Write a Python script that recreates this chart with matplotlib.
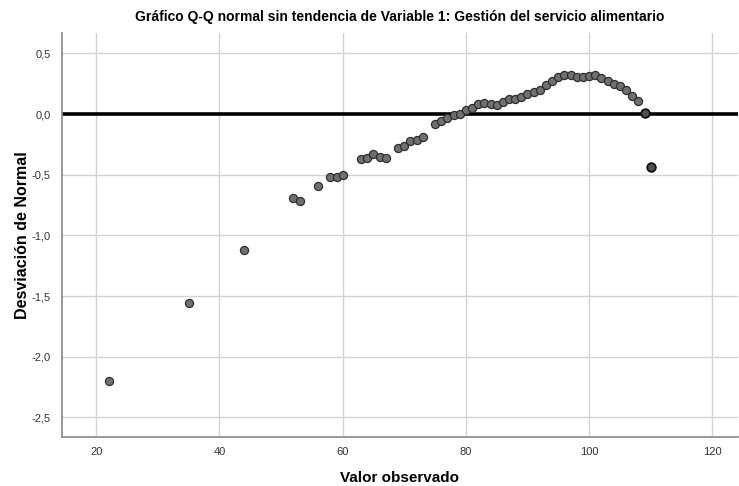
import matplotlib.pyplot as plt

# -----------------------------------
# DATA
# -----------------------------------

observed = [22, 35, 44, 52, 53, 56, 58, 59, 60, 63, 64, 65, 66, 67,
            69, 70, 71, 72, 73, 75, 76, 77, 78, 79, 80, 81, 82, 83,
            84, 85, 86, 87, 88, 89, 90, 91, 92, 93, 94, 95, 96, 97,
            98, 99, 100, 101, 102, 103, 104, 105, 106, 107, 108, 109, 110]

deviation = [-2.20, -1.56, -1.12, -0.69, -0.72, -0.59, -0.52, -0.52, -0.50,
             -0.37, -0.365, -0.33, -0.35, -0.36, -0.28, -0.26, -0.22, -0.21,
             -0.19, -0.08, -0.06, -0.03, -0.01, 0.0, 0.03, 0.05, 0.08, 0.09,
             0.08, 0.077, 0.096, 0.12, 0.12, 0.14, 0.167, 0.18, 0.20, 0.236,
             0.274, 0.305, 0.32, 0.32, 0.307, 0.307, 0.315, 0.32, 0.30, 0.27,
             0.25, 0.23, 0.195, 0.15, 0.105, 0.01, -0.44]

# repeated observations (drawn darker in the reference)
repeated_x = [109, 110]
repeated_y = [0.01, -0.44]

x_ticks = [20, 40, 60, 80, 100, 120]
y_ticks = [0.5, 0.0, -0.5, -1.0, -1.5, -2.0, -2.5]

# -----------------------------------
# PLOT
# -----------------------------------

plt.rcParams["font.family"] = ["Liberation Sans", "DejaVu Sans"]

fig = plt.figure(figsize=(7.39, 4.86), dpi=100)
ax = fig.add_axes([0.084, 0.101, 0.914, 0.831])

ax.set_xlim(14.45, 124.1)
ax.set_ylim(-2.66, 0.667)

ax.grid(True, color="#d2d2d2", linewidth=1.0)
ax.set_axisbelow(True)

ax.axhline(0, color="black", linewidth=2.6, zorder=2)

ax.scatter(observed, deviation, s=34, color="#707070",
           edgecolors="#2e2e2e", linewidths=0.9, zorder=3)
ax.scatter(repeated_x, repeated_y, s=38, color="#505050",
           edgecolors="#111111", linewidths=1.3, zorder=4)

ax.set_xticks(x_ticks)
ax.set_yticks(y_ticks)
ax.set_yticklabels([f"{v:.1f}".replace(".", ",") for v in y_ticks])
ax.tick_params(axis="both", length=0, labelsize=8, labelcolor="#333333")
ax.tick_params(axis="x", pad=7)
ax.tick_params(axis="y", pad=8)

for side in ["top", "right"]:
    ax.spines[side].set_visible(False)
for side in ["left", "bottom"]:
    ax.spines[side].set_color("#888888")
    ax.spines[side].set_linewidth(1.2)

fig.text(0.541, 0.016, "Valor observado", fontsize=11, fontweight="bold",
         ha="center", va="center")
fig.text(0.030, 0.516, "Desviación de Normal", fontsize=11.5, fontweight="bold",
         ha="center", va="center", rotation=90)
ax.set_title("Gráfico Q-Q normal sin tendencia de Variable 1: Gestión del servicio alimentario",
             fontsize=10, fontweight="bold", pad=9)

fig.savefig("out.png", dpi=100)
